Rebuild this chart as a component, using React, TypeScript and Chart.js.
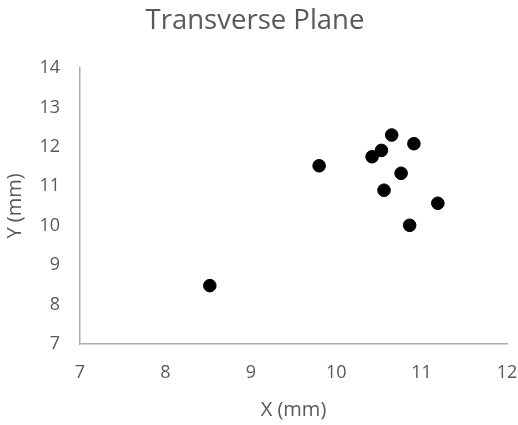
import React, { useEffect, useRef } from "react";
import { Chart, registerables } from "chart.js";

Chart.register(...registerables);

const xValues = [8.52, 9.80, 10.42, 10.53, 10.65, 10.91, 10.76, 10.56, 11.19, 10.86];
const yValues = [8.48, 11.52, 11.75, 11.91, 12.30, 12.08, 11.33, 10.90, 10.57, 10.01];
const titleText = "Transverse Plane";
const xTitle = "X (mm)";
const yTitle = "Y (mm)";
const xMin = 7, xMax = 12, yMin = 7, yMax = 14;

const FONT = "'Open Sans', 'Noto Sans', sans-serif";
const TEXT = "#595959";
const AXIS = "#ababab";

export default function App() {
  const ref = useRef<HTMLCanvasElement | null>(null);
  useEffect(() => {
    if (!ref.current) return;
    const chart = new Chart(ref.current, {
      type: "scatter",
      data: {
        datasets: [
          {
            data: xValues.map((x, i) => ({ x, y: yValues[i] })),
            backgroundColor: "#000000",
            borderColor: "#000000",
            pointRadius: 6.3,
            pointHoverRadius: 6.3,
          },
        ],
      },
      options: {
        animation: false,
        responsive: false,
        devicePixelRatio: 1,
        layout: { padding: { top: 5, left: 3, right: 11, bottom: 3 } },
        plugins: {
          legend: { display: false },
          tooltip: { enabled: false },
          title: {
            display: true,
            text: titleText,
            color: TEXT,
            font: { family: FONT, size: 27.5, weight: "normal" },
            padding: { top: 0, bottom: 30 },
          },
        },
        scales: {
          x: {
            type: "linear",
            min: xMin,
            max: xMax,
            afterFit: (s: any) => {
              s.height = 78;
              s.paddingLeft = 0;
              s.paddingRight = 0;
            },
            grid: { display: false, drawTicks: false },
            border: { display: true, color: AXIS, width: 1.5 },
            ticks: {
              stepSize: 1,
              color: TEXT,
              padding: 18,
              font: { family: FONT, size: 18 },
            },
            title: {
              display: true,
              text: xTitle,
              color: TEXT,
              font: { family: FONT, size: 20 },
              padding: 0,
            },
          },
          y: {
            type: "linear",
            min: yMin,
            max: yMax,
            afterFit: (s: any) => {
              s.width = 77;
              s.paddingTop = 0;
              s.paddingBottom = 0;
            },
            grid: { display: false, drawTicks: false },
            border: { display: true, color: AXIS, width: 1.5 },
            ticks: {
              stepSize: 1,
              color: TEXT,
              padding: 20,
              font: { family: FONT, size: 18 },
            },
            title: {
              display: true,
              text: yTitle,
              color: TEXT,
              font: { family: FONT, size: 20 },
              padding: 0,
            },
          },
        },
      },
    });
    return () => chart.destroy();
  }, []);
  return (
    <div style={{ position: "fixed", left: 0, top: 0, width: 518, height: 425, background: "#fff" }}>
      <canvas ref={ref} width={518} height={425} style={{ display: "block" }} />
    </div>
  );
}
